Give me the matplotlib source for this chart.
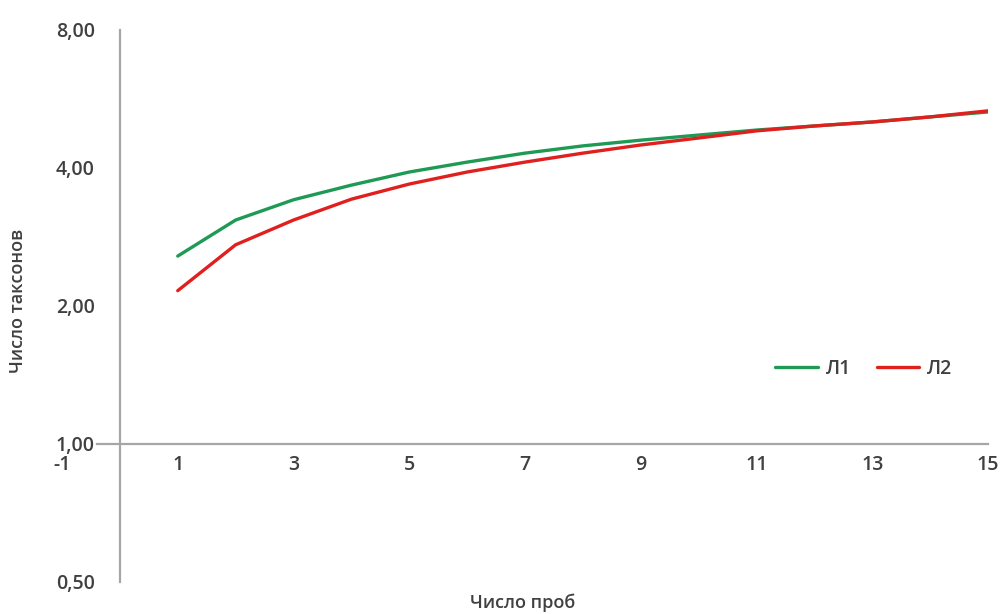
import matplotlib
matplotlib.use("Agg")
import matplotlib.pyplot as plt
from matplotlib.ticker import FixedLocator, FuncFormatter

# Число проб (x) and число таксонов for the two series
samples = [1, 2, 3, 4, 5, 6, 7, 8, 9, 10, 11, 12, 13, 14, 15]
l1_taxa = [2.57, 3.08, 3.41, 3.67, 3.92, 4.12, 4.31, 4.47, 4.60, 4.72, 4.84, 4.94, 5.04, 5.17, 5.30]
l2_taxa = [2.16, 2.72, 3.08, 3.42, 3.69, 3.92, 4.12, 4.31, 4.49, 4.65, 4.82, 4.94, 5.04, 5.17, 5.33]
series_names = ["Л1", "Л2"]

x_ticks = [-1, 1, 3, 5, 7, 9, 11, 13, 15]
y_ticks = [0.5, 1, 2, 4, 8]

plt.rcParams['font.family'] = ['Open Sans', 'DejaVu Sans']
text_color = '#404040'

fig = plt.figure(figsize=(10.03, 6.14), dpi=100)
ax = fig.add_axes([62 / 1003, 1 - 582 / 614, (988 - 62) / 1003, (582 - 30) / 614])

ax.plot(samples, l1_taxa, color='#1e9a55', lw=2.4, label=series_names[0], solid_capstyle='round')
ax.plot(samples, l2_taxa, color='#e0201e', lw=2.4, label=series_names[1], solid_capstyle='round')

ax.set_yscale('log', base=2)
ax.set_xlim(-1, 15)
ax.set_ylim(0.5, 8)

# axes cross like in Excel: y axis at x=0, x axis at y=1
ax.spines['left'].set_position(('data', 0))
ax.spines['bottom'].set_position(('data', 1))
ax.spines['top'].set_visible(False)
ax.spines['right'].set_visible(False)
for s in ('left', 'bottom'):
    ax.spines[s].set_color('#a6a6a6')
    ax.spines[s].set_linewidth(1.6)
ax.spines['bottom'].set_bounds(-0.4, 15)

ax.xaxis.set_major_locator(FixedLocator(x_ticks))
ax.yaxis.set_major_locator(FixedLocator(y_ticks))
ax.yaxis.set_minor_locator(FixedLocator([]))
ax.xaxis.set_major_formatter(FuncFormatter(lambda v, p: f"{int(v)}"))
ax.yaxis.set_major_formatter(FuncFormatter(lambda v, p: f"{v:.2f}".replace('.', ',')))
ax.tick_params(axis='both', length=0, labelsize=14, colors=text_color)
ax.tick_params(axis='y', pad=18)
ax.tick_params(axis='x', pad=8)
for lbl in ax.get_xticklabels() + ax.get_yticklabels():
    lbl.set_fontweight('semibold')

fig.text(523 / 1003, 1 - 603 / 614, "Число проб", ha='center', va='center',
         fontsize=13, color=text_color, fontweight='semibold')
fig.text(18 / 1003, 1 - 301 / 614, "Число таксонов", ha='center', va='center',
         rotation=90, fontsize=13, color=text_color, fontweight='semibold')

leg = ax.legend(loc='center', bbox_to_anchor=(864 / 1003, 1 - 369 / 614), bbox_transform=fig.transFigure,
                ncol=2, frameon=False, fontsize=14, handlelength=2.2, handletextpad=0.4,
                columnspacing=1.3, labelcolor=text_color)
for t in leg.get_texts():
    t.set_fontweight('semibold')

fig.savefig('out.png', dpi=100)
